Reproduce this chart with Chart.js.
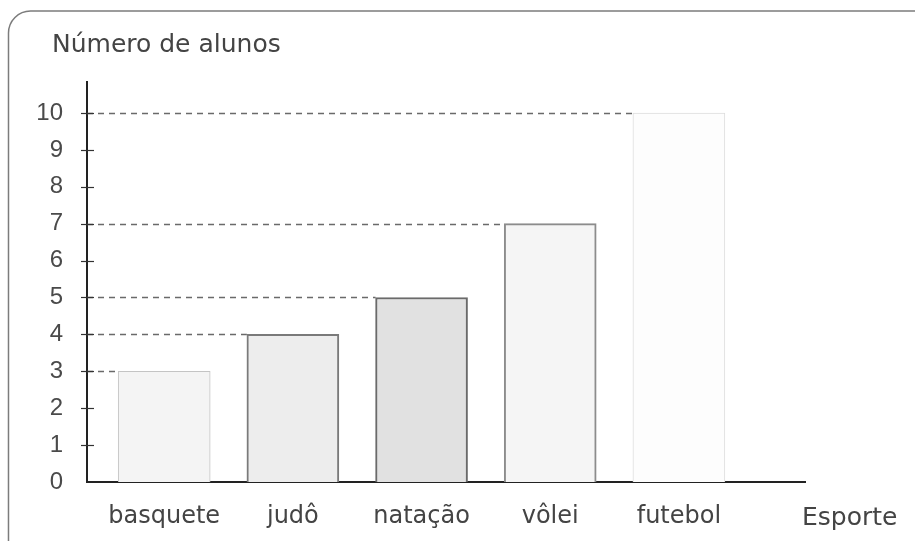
<!DOCTYPE html>
<html>
<head>
<meta charset="utf-8">
<script src="https://cdn.jsdelivr.net/npm/chart.js@4"></script>
<style>
  html, body { margin: 0; padding: 0; background: #fff; }
  #wrap { width: 915px; height: 541px; }
</style>
</head>
<body>
<div id="wrap"><canvas id="alunosChart"></canvas></div>
<script>
// dados do gráfico
const esportes = ['basquete', 'judô', 'natação', 'vôlei', 'futebol']
const alunos = [3, 4, 5, 7, 10]
const yTicks = [0, 1, 2, 3, 4, 5, 6, 7, 8, 9, 10]
const tituloY = 'Número de alunos'
const tituloX = 'Esporte'

// estilos das barras (tons de cinza da figura)
const fillCores = ['#f4f4f4', '#ededed', '#e1e1e1', '#f5f5f5', '#fdfdfd']
const bordaCores = ['#c4c4c4', '#7a7a7a', '#6a6a6a', '#8c8c8c', '#dddddd']
const bordaLarg = [1, 2, 2, 2, 1]

/***************************** moldura + textos *****************************/
const molduraPlugin = {
	id: 'moldura',
	beforeDraw(chart) {
		const ctx = chart.ctx
		ctx.save()
		ctx.fillStyle = '#fff'
		ctx.fillRect(0, 0, chart.width, chart.height)
		ctx.strokeStyle = '#7c7c7c'
		ctx.lineWidth = 1.5
		ctx.beginPath()
		ctx.roundRect(8.5, 11, 940, 560, 22)
		ctx.stroke()
		ctx.restore()
	},
	afterDraw(chart) {
		const ctx = chart.ctx
		ctx.save()
		ctx.fillStyle = '#444'
		ctx.font = '25px "DejaVu Sans"'
		ctx.textBaseline = 'alphabetic'
		ctx.fillText(tituloY, 52, 52)
		ctx.fillText(tituloX, 802, 525)

		// marcas do eixo y (cruzam o eixo)
		const y = chart.scales.y
		const left = chart.chartArea.left
		ctx.strokeStyle = '#333'
		ctx.lineWidth = 1.2
		for (const v of yTicks) {
			if (v === 0) continue
			const py = Math.round(y.getPixelForValue(v)) + 0.5
			ctx.beginPath()
			ctx.moveTo(left - 6, py)
			ctx.lineTo(left + 7, py)
			ctx.stroke()
		}
		ctx.restore()
	}
}

/***************************** linhas tracejadas *****************************/
const tracejadoPlugin = {
	id: 'tracejado',
	beforeDatasetsDraw(chart) {
		const ctx = chart.ctx
		const y = chart.scales.y
		const bars = chart.getDatasetMeta(0).data
		ctx.save()
		ctx.strokeStyle = '#6a6a6a'
		ctx.lineWidth = 1.3
		ctx.setLineDash([6, 5])
		bars.forEach((bar, i) => {
			const py = Math.round(y.getPixelForValue(alunos[i])) + 0.5
			ctx.beginPath()
			ctx.moveTo(chart.chartArea.left, py)
			ctx.lineTo(bar.x - bar.width / 2, py)
			ctx.stroke()
		})
		ctx.restore()
	}
}

var chartArea = document.getElementById('alunosChart').getContext('2d')

var alunosChart = new Chart(chartArea, {
	type: 'bar',
	data: {
		datasets: [{
			data: esportes.map((e, i) => ({ x: i + 1, y: alunos[i] })),
			backgroundColor: fillCores,
			borderColor: bordaCores,
			borderWidth: bordaLarg,
			borderSkipped: 'bottom',
			barThickness: 92
		}]
	},
	options: {
		responsive: true,
		maintainAspectRatio: false,
		animation: false,
		layout: { padding: { left: 0, top: 82, right: 110, bottom: 0 } },
		plugins: {
			legend: { display: false },
			tooltip: { enabled: false }
		},
		scales: {
			x: {
				type: 'linear',
				min: 0.4,
				max: 5.98,
				offset: false,
				grid: { display: false, drawTicks: false, offset: false },
				border: { display: true, color: '#222', width: 2 },
				afterBuildTicks: (scale) => {
					scale.ticks = esportes.map((e, i) => ({ value: i + 1 }))
				},
				afterFit: (scale) => { scale.height = 59 },
				ticks: {
					autoSkip: false,
					maxRotation: 0,
					padding: 20,
					color: '#444',
					font: { family: 'DejaVu Sans', size: 24 },
					callback: (v) => esportes[v - 1]
				}
			},
			y: {
				min: 0,
				max: 10.84,
				grid: { display: false, drawTicks: false },
				border: { display: true, color: '#222', width: 2 },
				afterBuildTicks: (scale) => {
					scale.ticks = yTicks.map(v => ({ value: v }))
				},
				afterFit: (scale) => { scale.width = 87 },
				ticks: {
					padding: 24,
					color: '#4a4a4a',
					font: { family: 'Liberation Sans', size: 24 }
				}
			}
		}
	},
	plugins: [molduraPlugin, tracejadoPlugin]
})
</script>
</body>
</html>
